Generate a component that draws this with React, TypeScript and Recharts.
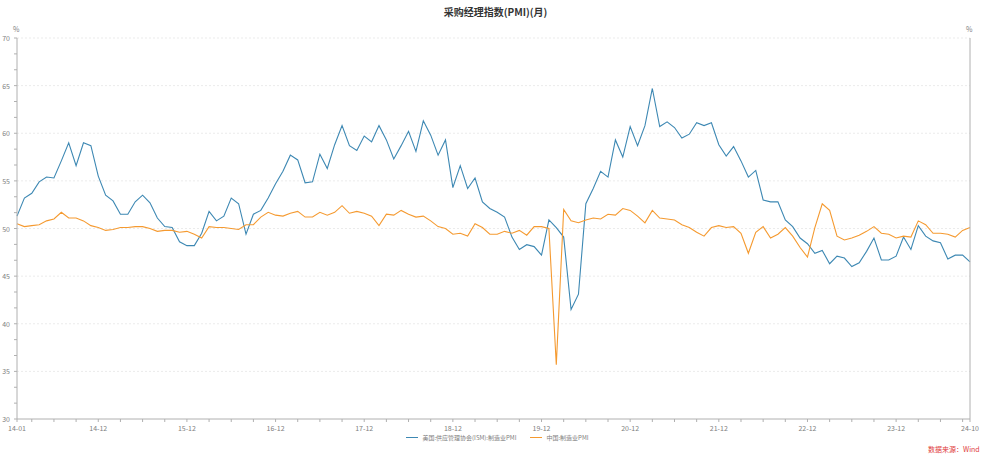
import React from 'react';
import { LineChart, Line, XAxis, YAxis, ReferenceLine } from 'recharts';

// 美国:供应管理协会(ISM):制造业PMI, 2014-01 .. 2024-10
const ismPmi = [
  51.3, 53.2, 53.7, 54.9, 55.4, 55.3, 57.1, 59.0, 56.6, 59.0, 58.7, 55.5,
  53.5, 52.9, 51.5, 51.5, 52.8, 53.5, 52.7, 51.1, 50.2, 50.1, 48.6, 48.2,
  48.2, 49.5, 51.8, 50.8, 51.3, 53.2, 52.6, 49.4, 51.5, 51.9, 53.2, 54.7,
  56.0, 57.7, 57.2, 54.8, 54.9, 57.8, 56.3, 58.8, 60.8, 58.7, 58.2, 59.7,
  59.1, 60.8, 59.3, 57.3, 58.7, 60.2, 58.1, 61.3, 59.8, 57.7, 59.3, 54.3,
  56.6, 54.2, 55.3, 52.8, 52.1, 51.7, 51.2, 49.1, 47.8, 48.3, 48.1, 47.2,
  50.9, 50.1, 49.1, 41.5, 43.1, 52.6, 54.2, 56.0, 55.4, 59.3, 57.5, 60.7,
  58.7, 60.8, 64.7, 60.7, 61.2, 60.6, 59.5, 59.9, 61.1, 60.8, 61.1, 58.8,
  57.6, 58.6, 57.1, 55.4, 56.1, 53.0, 52.8, 52.8, 50.9, 50.2, 49.0, 48.4,
  47.4, 47.7, 46.3, 47.1, 46.9, 46.0, 46.4, 47.6, 49.0, 46.7, 46.7, 47.1,
  49.1, 47.8, 50.3, 49.2, 48.7, 48.5, 46.8, 47.2, 47.2, 46.5,
];

// 中国:制造业PMI, 2014-01 .. 2024-10
const chinaPmi = [
  50.5, 50.2, 50.3, 50.4, 50.8, 51.0, 51.7, 51.1, 51.1, 50.8, 50.3, 50.1,
  49.8, 49.9, 50.1, 50.1, 50.2, 50.2, 50.0, 49.7, 49.8, 49.8, 49.6, 49.7,
  49.4, 49.0, 50.2, 50.1, 50.1, 50.0, 49.9, 50.4, 50.4, 51.2, 51.7, 51.4,
  51.3, 51.6, 51.8, 51.2, 51.2, 51.7, 51.4, 51.7, 52.4, 51.6, 51.8, 51.6,
  51.3, 50.3, 51.5, 51.4, 51.9, 51.5, 51.2, 51.3, 50.8, 50.2, 50.0, 49.4,
  49.5, 49.2, 50.5, 50.1, 49.4, 49.4, 49.7, 49.5, 49.8, 49.3, 50.2, 50.2,
  50.0, 35.7, 52.0, 50.8, 50.6, 50.9, 51.1, 51.0, 51.5, 51.4, 52.1, 51.9,
  51.3, 50.6, 51.9, 51.1, 51.0, 50.9, 50.4, 50.1, 49.6, 49.2, 50.1, 50.3,
  50.1, 50.2, 49.5, 47.4, 49.6, 50.2, 49.0, 49.4, 50.1, 49.2, 48.0, 47.0,
  50.1, 52.6, 51.9, 49.2, 48.8, 49.0, 49.3, 49.7, 50.2, 49.5, 49.4, 49.0,
  49.2, 49.1, 50.8, 50.4, 49.5, 49.5, 49.4, 49.1, 49.8, 50.1,
];

const startYear = 2014;
const months = ismPmi.map((_, i) => {
  const y = startYear + Math.floor(i / 12);
  const m = (i % 12) + 1;
  return `${String(y).slice(2)}-${String(m).padStart(2, '0')}`;
});

const data = months.map((label, i) => ({
  i,
  label,
  ism: ismPmi[i],
  china: chinaPmi[i],
}));

const yTicks = Array.from({ length: 25 }, (_, k) => 30 + (k * 5) / 3);
const gridValues = [35, 40, 45, 50, 55, 60, 65, 70];
const last = months.length - 1;
const xTicks = [0, ...months.map((_, i) => i).filter(i => i % 3 === 2), last];

const isMajorY = (v: number) => Math.abs(v / 5 - Math.round(v / 5)) < 1e-6;
const isMajorX = (i: number) => i === 0 || i === last || i % 12 === 11;

const FONT = '"Noto Sans CJK SC", "Noto Sans", sans-serif';
const AXIS = '#b0b0b0';
const TEXT = '#808080';
const BLUE = '#3d88b3';
const ORANGE = '#f59a30';

const LeftTick = ({ x, y, payload }: any) =>
  isMajorY(payload.value) ? (
    <text x={x - 2} y={y + 3} textAnchor="end" fontSize={7} fill={TEXT} fontFamily={FONT}>
      {Math.round(payload.value)}
    </text>
  ) : null;

const RightTick = ({ x, y, payload }: any) =>
  isMajorY(payload.value) ? (
    <text x={x + 2} y={y + 3} textAnchor="start" fontSize={7} fill={TEXT} fontFamily={FONT}>
      {Math.round(payload.value)}
    </text>
  ) : null;

const BottomTick = ({ x, y, payload }: any) =>
  isMajorX(payload.value) ? (
    <text x={x} y={y + 7} textAnchor="middle" fontSize={7} fill={TEXT} fontFamily={FONT}>
      {months[payload.value]}
    </text>
  ) : null;

export default function App() {
  return (
    <div style={{ position: 'absolute', left: 0, top: 0, width: 991, height: 457, background: '#fff', fontFamily: FONT, overflow: 'hidden' }}>
      <div style={{ position: 'absolute', top: 4, left: 0, width: 991, textAlign: 'center', fontSize: 10, fontWeight: 'bold', color: '#333' }}>
        采购经理指数(PMI)(月)
      </div>
      <div style={{ position: 'absolute', top: 24, left: 13, fontSize: 7, color: TEXT }}>%</div>
      <div style={{ position: 'absolute', top: 24, left: 966, fontSize: 7, color: TEXT }}>%</div>

      <LineChart width={991} height={457} data={data} margin={{ top: 38, right: 0, bottom: 18, left: 0 }}>
        {gridValues.map(v => (
          <ReferenceLine key={v} yAxisId="left" y={v} stroke="#ebebeb" strokeDasharray="2 2" />
        ))}
        <XAxis
          dataKey="i"
          type="number"
          domain={[0, last]}
          ticks={xTicks}
          interval={0}
          height={20}
          tick={<BottomTick />}
          tickSize={3}
          axisLine={{ stroke: AXIS }}
          tickLine={{ stroke: AXIS }}
        />
        <YAxis
          yAxisId="left"
          domain={[30, 70]}
          ticks={yTicks}
          interval={0}
          width={17}
          tick={<LeftTick />}
          tickSize={3}
          axisLine={{ stroke: AXIS }}
          tickLine={{ stroke: AXIS }}
        />
        <YAxis
          yAxisId="right"
          orientation="right"
          domain={[30, 70]}
          ticks={yTicks}
          interval={0}
          width={21}
          tick={<RightTick />}
          tickSize={3}
          axisLine={{ stroke: AXIS }}
          tickLine={{ stroke: AXIS }}
        />
        <Line yAxisId="left" dataKey="ism" stroke={BLUE} strokeWidth={1.1} dot={false} isAnimationActive={false} />
        <Line yAxisId="left" dataKey="china" stroke={ORANGE} strokeWidth={1.1} dot={false} isAnimationActive={false} />
      </LineChart>

      <div style={{ position: 'absolute', top: 433, left: 0, width: 991, display: 'flex', justifyContent: 'center', fontSize: 6, color: TEXT, whiteSpace: 'nowrap' }}>
        <span style={{ display: 'flex', alignItems: 'center', marginLeft: 4 }}>
          <span style={{ display: 'inline-block', width: 12, height: 1, background: BLUE, marginRight: 4 }} />
          美国:供应管理协会(ISM):制造业PMI
        </span>
        <span style={{ display: 'flex', alignItems: 'center', marginLeft: 14 }}>
          <span style={{ display: 'inline-block', width: 12, height: 1, background: ORANGE, marginRight: 4 }} />
          中国:制造业PMI
        </span>
      </div>
      <div style={{ position: 'absolute', top: 444, left: 928, fontSize: 7, color: '#e03c3c', whiteSpace: 'nowrap' }}>数据来源：Wind</div>
    </div>
  );
}
